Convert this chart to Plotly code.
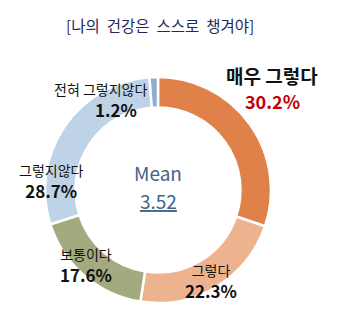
import plotly.graph_objects as go

# Survey response shares, clockwise from 12 o'clock
categories = ["매우 그렇다", "그렇다", "보통이다", "그렇지않다", "전혀 그렇지않다"]
shares = [30.2, 22.3, 17.6, 28.7, 1.2]
colors = ["#DF8148", "#EDB38F", "#A4AA7F", "#BED3E5", "#8EAFD0"]
title_text = "[나의 건강은 스스로 챙겨야]"
mean_value = 3.52

W, H = 344, 333
FONT = "Noto Sans CJK KR"


def px(x):
    return x / W


def py(y):
    return 1 - y / H


fig = go.Figure(
    go.Pie(
        labels=categories,
        values=shares,
        sort=False,
        direction="clockwise",
        rotation=0,
        hole=0.73,
        marker=dict(colors=colors, line=dict(color="white", width=2.5)),
        textinfo="none",
        hoverinfo="label+percent",
        domain=dict(x=[px(45), px(271)], y=[py(303), py(77)]),
        showlegend=False,
    )
)

# centre of each two-line label (category name over its share), in pixels
label_pos = {
    "그렇다": (211, 281),
    "보통이다": (86, 265),
    "그렇지않다": (51, 181),
    "전혀 그렇지않다": (100, 100),
}


def annot(text, x, y, size, color, **kw):
    return dict(text=text, x=px(x), y=py(y), xref="paper", yref="paper",
                xanchor="center", yanchor="middle", showarrow=False,
                font=dict(family=FONT, size=size, color=color), **kw)


wide_title = title_text.replace(" ", "\u00a0\u00a0")
annotations = [annot(wide_title, 160, 25, 15.5, "#1F2A5A")]

for cat, val in zip(categories, shares):
    if cat == "매우 그렇다":
        # highlighted top answer: larger bold name, red share below
        annotations.append(annot(f"<b>{cat}</b>", 272, 75, 19, "#111111"))
        annotations.append(annot(f"<b>{val:.1f}%</b>", 272, 101, 18, "#C00000"))
        continue
    cx, cy = label_pos[cat]
    pad = "\u00a0" * 8 if cat == "전혀 그렇지않다" else ""
    text = (f"<span style='font-size:14px'>{cat}</span><br>"
            f"{pad}<b>{val:.1f}%</b>")
    annotations.append(annot(text, cx, cy, 17, "#111111"))

annotations.append(annot("Mean", 158, 172, 19, "#3F6587"))
annotations.append(annot(f"<u>{mean_value:.2f}</u>", 158, 200, 19, "#3F6587"))

fig.update_layout(
    width=W, height=H,
    margin=dict(l=0, r=0, t=0, b=0),
    paper_bgcolor="white",
    plot_bgcolor="white",
    annotations=annotations,
)

fig.write_html("out.html")
